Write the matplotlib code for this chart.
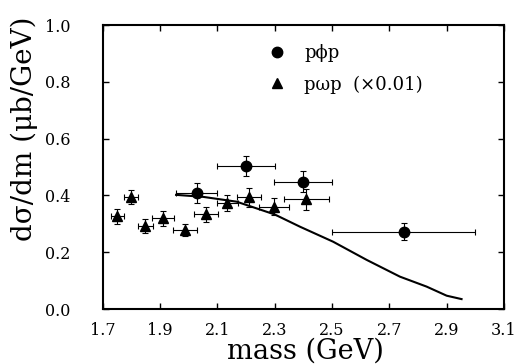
import numpy as np
import matplotlib
matplotlib.use("Agg")
import matplotlib.pyplot as plt

plt.rcParams['font.family'] = ['DejaVu Serif', 'DejaVu Sans']

# p phi p points
phi_x = [2.028, 2.200, 2.400, 2.752]
phi_y = [0.407, 0.505, 0.448, 0.272]
phi_xlo = [1.956, 2.100, 2.298, 2.500]
phi_xhi = [2.100, 2.300, 2.500, 3.000]
phi_yerr = [0.035, 0.035, 0.037, 0.030]

# p omega p points (x0.01)
om_x = [1.751, 1.798, 1.849, 1.911, 1.988, 2.060, 2.135, 2.211, 2.298, 2.411]
om_y = [0.326, 0.394, 0.291, 0.319, 0.279, 0.333, 0.372, 0.393, 0.360, 0.386]
om_xerr = [0.023, 0.025, 0.025, 0.039, 0.042, 0.041, 0.037, 0.042, 0.051, 0.077]
om_yerr = [0.025, 0.025, 0.025, 0.025, 0.022, 0.027, 0.028, 0.033, 0.030, 0.037]

# model curve
curve_x = [1.956, 2.05, 2.167, 2.30, 2.388, 2.504, 2.621, 2.737, 2.830, 2.900, 2.952]
curve_y = [0.402, 0.395, 0.378, 0.333, 0.290, 0.237, 0.173, 0.114, 0.079, 0.047, 0.035]

fig = plt.figure(figsize=(5.14, 3.64), dpi=100)
ax = fig.add_axes([0.1998, 0.151, 0.7807, 0.7803])

ax.plot(curve_x, curve_y, color='black', lw=1.5)

phi_x = np.array(phi_x)
xerr_phi = [phi_x - np.array(phi_xlo), np.array(phi_xhi) - phi_x]
ax.errorbar(phi_x, phi_y, xerr=xerr_phi, yerr=phi_yerr, fmt='o', color='black',
            ms=7.5, elinewidth=0.8, capsize=2, capthick=0.8, label='p\u03d5p')
ax.errorbar(om_x, om_y, xerr=om_xerr, yerr=om_yerr, fmt='^', color='black',
            ms=7.5, elinewidth=0.8, capsize=2, capthick=0.8, label='p\u03c9p  (\u00d70.01)')

ax.set_xlim(1.7, 3.1)
ax.set_ylim(0.0, 1.0)
ax.set_xticks(np.arange(1.7, 3.11, 0.2))
ax.set_yticks(np.arange(0.0, 1.01, 0.2))
ax.set_xticklabels(['1.7', '1.9', '2.1', '2.3', '2.5', '2.7', '2.9', '3.1'])
ax.set_yticklabels(['0.0', '0.2', '0.4', '0.6', '0.8', '1.0'])
ax.tick_params(direction='in', length=4.5, width=1, top=True, right=True,
               labelsize=11.5)
ax.tick_params(axis='y', pad=23.5)
ax.tick_params(axis='x', pad=9)
for s in ax.spines.values():
    s.set_linewidth(1.5)

ax.set_xlabel('mass (GeV)', fontsize=19.5)
ax.xaxis.set_label_coords(0.505, -0.10)
ax.set_ylabel('d\u03c3/dm (\u03bcb/GeV)', fontsize=20)
ax.yaxis.set_label_coords(-0.16, 0.636)

handles, labels = ax.get_legend_handles_labels()
handles = [h[0] for h in handles]
ax.legend(handles, labels, loc='upper left', bbox_to_anchor=(0.39, 0.965),
          frameon=False, fontsize=13, handlelength=1.0, handletextpad=1.0,
          borderpad=0, labelspacing=0.75)

fig.savefig('out.png', dpi=100)
